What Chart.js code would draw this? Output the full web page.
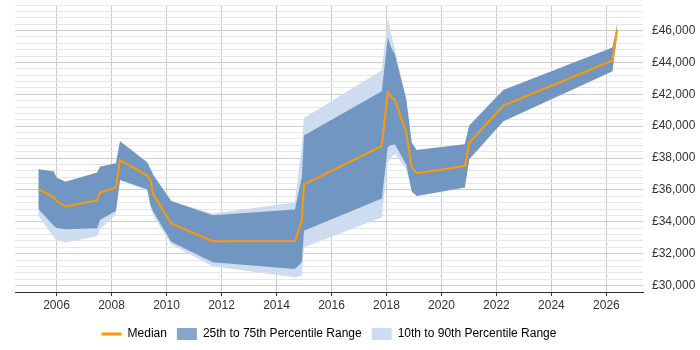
<!DOCTYPE html>
<html lang="en">
	<head>
		<meta charset="UTF-8"/>
		<title>Salary percentiles</title>
		<script src="https://cdn.jsdelivr.net/npm/chart.js@4.4.1/dist/chart.umd.min.js"></script>
		<style>
			body { margin: 0; background: #fff; }
		</style>
	</head>
	<body>

		<canvas id="chart" width="700" height="350"></canvas>
		<script>

			// dates as decimal years
			const years = [2005.34, 2005.9, 2006.0, 2006.33, 2007.48, 2007.58, 2008.16, 2008.31, 2009.3, 2009.42, 2009.52, 2010.17, 2011.68, 2014.67, 2014.92, 2015.0, 2017.83, 2018.05, 2018.15, 2018.31, 2018.72, 2018.92, 2019.1, 2020.85, 2021.01, 2022.25, 2026.22, 2026.39];
			const p90 = [37300, 37150, 36780, 36520, 37090, 37460, 37670, 39060, 37750, 37350, 37000, 35300, 34520, 35210, 38800, 40520, 43500, 46770, 45950, 44800, 41670, 38960, 38500, 38860, 40040, 42270, 44940, 46600];
			const p75 = [37300, 37150, 36780, 36520, 37090, 37460, 37670, 39060, 37720, 37300, 36930, 35300, 34420, 34770, 36780, 39420, 42190, 45600, 45000, 44480, 41670, 38960, 38500, 38860, 40040, 42270, 44940, 46300];
			const median = [36050, 35550, 35300, 34960, 35360, 35840, 36150, 37870, 36900, 36600, 35730, 33900, 32790, 32800, 34060, 36350, 38750, 42120, 41870, 41620, 39590, 37400, 37050, 37500, 38960, 41290, 44120, 46040];
			const p25 = [34800, 33750, 33620, 33540, 33600, 34120, 34690, 36620, 36040, 35030, 34630, 32750, 31460, 31040, 31460, 33440, 35460, 38700, 38800, 38850, 37600, 35900, 35620, 36150, 37920, 40310, 43440, 45800];
			const p10 = [34380, 33050, 32810, 32710, 33090, 33540, 34480, 36620, 35950, 34900, 34400, 32600, 31210, 30520, 30630, 32400, 34280, 37700, 38000, 38250, 37300, 35880, 35620, 36150, 37920, 40310, 43440, 45800];
			const xTicks = [2006, 2008, 2010, 2012, 2014, 2016, 2018, 2020, 2022, 2024, 2026];

			const toXY = arr => arr.map((v, i) => ({x: years[i], y: v}));

			Chart.defaults.font.family = "'Liberation Sans', Arial, sans-serif";
			Chart.defaults.font.size = 12;
			Chart.defaults.color = '#333';

			const dark = '#7196c2';
			const light = '#cddcee';

			// centre the legend under the plot area rather than the whole canvas
			const legendShift = {
				id: 'legendShift',
				afterLayout(chart) {
					const lg = chart.legend;
					const mid = (chart.chartArea.left + chart.chartArea.right) / 2;
					const d = mid - (lg.left + lg.right) / 2;
					lg.left += d;
					lg.right += d;
				}
			};

			const ctx = document.getElementById('chart').getContext('2d');
			const myChart = new Chart(ctx, {
				type: 'line',
				data: {
					datasets: [
						{ label: 'Median', data: toXY(median), borderColor: '#ff9900', borderWidth: 2, pointRadius: 0, fill: false, order: 0 },
						{ label: '25th to 75th Percentile Range', data: toXY(p75), borderWidth: 0, pointRadius: 0, backgroundColor: dark, fill: '+1', order: 1 },
						{ label: 'p25', data: toXY(p25), borderWidth: 0, pointRadius: 0, fill: false, order: 2 },
						{ label: '10th to 90th Percentile Range', data: toXY(p90), borderWidth: 0, pointRadius: 0, backgroundColor: light, fill: '+1', order: 3 },
						{ label: 'p10', data: toXY(p10), borderWidth: 0, pointRadius: 0, fill: false, order: 4 }
					]
				},
				plugins: [legendShift],
				options: {
					responsive: false,
					animation: false,
					elements: { line: { tension: 0 } },
					layout: { padding: { left: 15, top: 5, right: 0, bottom: 0 } },
					plugins: {
						tooltip: { enabled: false },
						legend: {
							position: 'bottom',
							labels: {
								usePointStyle: true,
								pointStyleWidth: 20,
								boxHeight: 12,
								padding: 10,
								color: '#222',
								generateLabels: chart => [
									{ text: 'Median', pointStyle: 'line', fillStyle: '#ff9900', strokeStyle: '#ff9900', lineWidth: 3, datasetIndex: 0 },
									{ text: '25th to 75th Percentile Range', pointStyle: 'rect', fillStyle: '#87a5c9', strokeStyle: '#87a5c9', lineWidth: 0, datasetIndex: 1 },
									{ text: '10th to 90th Percentile Range', pointStyle: 'rect', fillStyle: light, strokeStyle: light, lineWidth: 0, datasetIndex: 3 }
								]
							}
						}
					},
					scales: {
						x: {
							type: 'linear',
							min: 2004.49,
							max: 2027.33,
							afterBuildTicks: scale => { scale.ticks = xTicks.map(v => ({value: v})); },
							afterFit: scale => { scale.height = 26; scale.paddingLeft = 0; scale.paddingRight = 0; },
							ticks: { callback: v => String(v), padding: 2, maxRotation: 0 },
							grid: { color: '#cccccc', tickColor: '#333', tickLength: 4 },
							border: { color: '#333', width: 1 }
						},
						y: {
							position: 'right',
							min: 29600,
							max: 47600,
							afterFit: scale => { scale.width = 57; scale.paddingTop = 0; scale.paddingBottom = 0; },
							ticks: {
								stepSize: 400,
								autoSkip: false,
								padding: 9,
								callback: v => Math.round(v) % 2000 === 0 ? '£' + Math.round(v).toLocaleString('en-GB') : ''
							},
							grid: {
								drawTicks: false,
								color: c => Math.round(c.tick.value) % 2000 === 0 ? '#cccccc' : '#e6e6e6'
							},
							border: { display: false }
						}
					}
				}
			});
		</script>

	</body>
</html>
